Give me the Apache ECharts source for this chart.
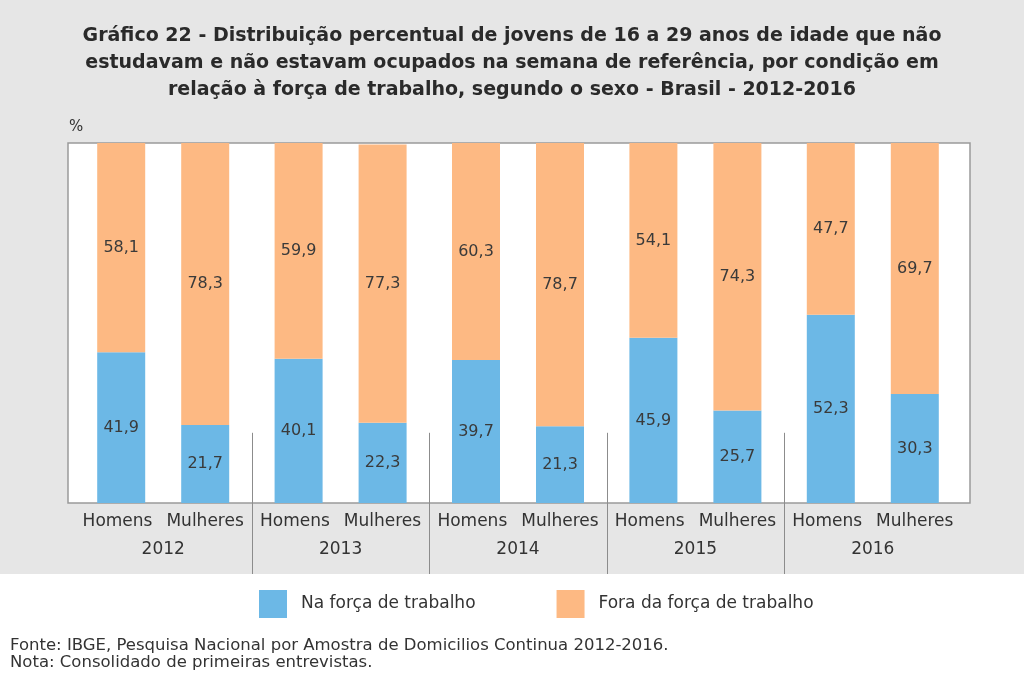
<!DOCTYPE html>
<html>
<head>
<meta charset="utf-8">
<script src="https://cdn.jsdelivr.net/npm/echarts@6/dist/echarts.min.js"></script>
<style>html,body{margin:0;padding:0;background:#fff}#c{width:1024px;height:676px}</style>
</head>
<body>
<div id="c"></div>
<script>
var years = ['2012', '2013', '2014', '2015', '2016'];
var sexLabels = ['Homens', 'Mulheres'];
var seriesNames = ['Na força de trabalho', 'Fora da força de trabalho'];
var homensNa = [41.9, 40.1, 39.7, 45.9, 52.3];
var homensFora = [58.1, 59.9, 60.3, 54.1, 47.7];
var mulheresNa = [21.7, 22.3, 21.3, 25.7, 30.3];
var mulheresFora = [78.3, 77.3, 78.7, 74.3, 69.7];
var titleText = 'Gráfico 22 - Distribuição percentual de jovens de 16 a 29 anos de idade que não\nestudavam e não estavam ocupados na semana de referência, por condição em\nrelação à força de trabalho, segundo o sexo - Brasil - 2012-2016';
var noteText = 'Fonte: IBGE, Pesquisa Nacional por Amostra de Domicilios Continua 2012-2016.\nNota: Consolidado de primeiras entrevistas.';

var BLUE = '#6cb8e6', ORANGE = '#fdb983', TXT = '#333333';
var FONT = 'DejaVu Sans';

var chart = echarts.init(document.getElementById('c'), null, {renderer: 'canvas'});

function lbl() {
  return {
    show: true, position: 'inside', color: '#3a3a3a', fontFamily: FONT, fontSize: 16,
    formatter: function (p) { return p.value.toFixed(1).replace('.', ','); }
  };
}
function bar(name, stack, data, color) {
  return {
    type: 'bar', name: name, stack: stack, data: data, barWidth: 48, barGap: '75%',
    itemStyle: {color: color}, label: lbl(), z: 3, emphasis: {disabled: true}
  };
}

var baseGraphic = [
  {type: 'rect', id: 'bg', z: -10, silent: true, shape: {x: 0, y: 0, width: 1024, height: 574}, style: {fill: '#e6e6e6'}},
  {type: 'rect', id: 'frame', z: -5, silent: true, shape: {x: 68, y: 143, width: 902, height: 360}, style: {fill: '#ffffff', stroke: '#9a9a9a', lineWidth: 1.5}},
  {type: 'text', id: 'pct', left: 69, top: 120, style: {text: '%', fill: TXT, font: '15px "DejaVu Sans"'}},
  {type: 'text', id: 'note', left: 10, top: 637, style: {text: noteText, fill: TXT, font: '16.5px "DejaVu Sans"', lineHeight: 17}}
];

chart.setOption({
  backgroundColor: '#ffffff',
  animation: false,
  title: {
    text: titleText, left: 'center', top: 18,
    textStyle: {fontFamily: 'DejaVu Sans', fontWeight: 'bold', fontSize: 19, lineHeight: 27, color: '#2a2a2a'}
  },
  legend: {
    data: seriesNames, left: 259, top: 590, padding: 0, icon: 'rect', itemWidth: 28, itemHeight: 28, itemGap: 81,
    textStyle: {fontFamily: FONT, fontSize: 17, color: TXT, padding: [4, 0, 0, 9]},
    selectedMode: false
  },
  grid: {left: 74.5, right: 62.5, top: 143, bottom: 173, containLabel: false},
  xAxis: {
    type: 'category', data: years,
    axisLine: {show: false}, axisTick: {show: false},
    axisLabel: {
      margin: 5, interval: 0,
      formatter: function (v) { return '{s|' + sexLabels[0] + '}{g|}{s|' + sexLabels[1] + '}\n{y|' + v + '}'; },
      rich: {
        s: {fontFamily: FONT, fontSize: 17, color: TXT, lineHeight: 28},
        g: {width: 14, lineHeight: 28},
        y: {fontFamily: FONT, fontSize: 17, color: TXT, lineHeight: 28}
      }
    }
  },
  yAxis: {type: 'value', min: 0, max: 100, show: false},
  series: [
    bar(seriesNames[0], 'H', homensNa, BLUE),
    bar(seriesNames[1], 'H', homensFora, ORANGE),
    bar(seriesNames[0], 'M', mulheresNa, BLUE),
    bar(seriesNames[1], 'M', mulheresFora, ORANGE)
  ],
  graphic: {elements: baseGraphic}
});

// group separators between years, positioned from the category axis
var seps = [];
for (var i = 0; i < years.length - 1; i++) {
  var a = chart.convertToPixel({xAxisIndex: 0}, i);
  var b = chart.convertToPixel({xAxisIndex: 0}, i + 1);
  var x = Math.round((a + b) / 2) + 0.5;
  var yTop = chart.convertToPixel({yAxisIndex: 0}, 19.5);
  seps.push({type: 'line', id: 'sep' + i, z: -4, silent: true,
    shape: {x1: x, y1: yTop, x2: x, y2: 574}, style: {stroke: '#8c8c8c', lineWidth: 1}});
}
chart.setOption({graphic: {elements: baseGraphic.concat(seps)}});
</script>
</body>
</html>
